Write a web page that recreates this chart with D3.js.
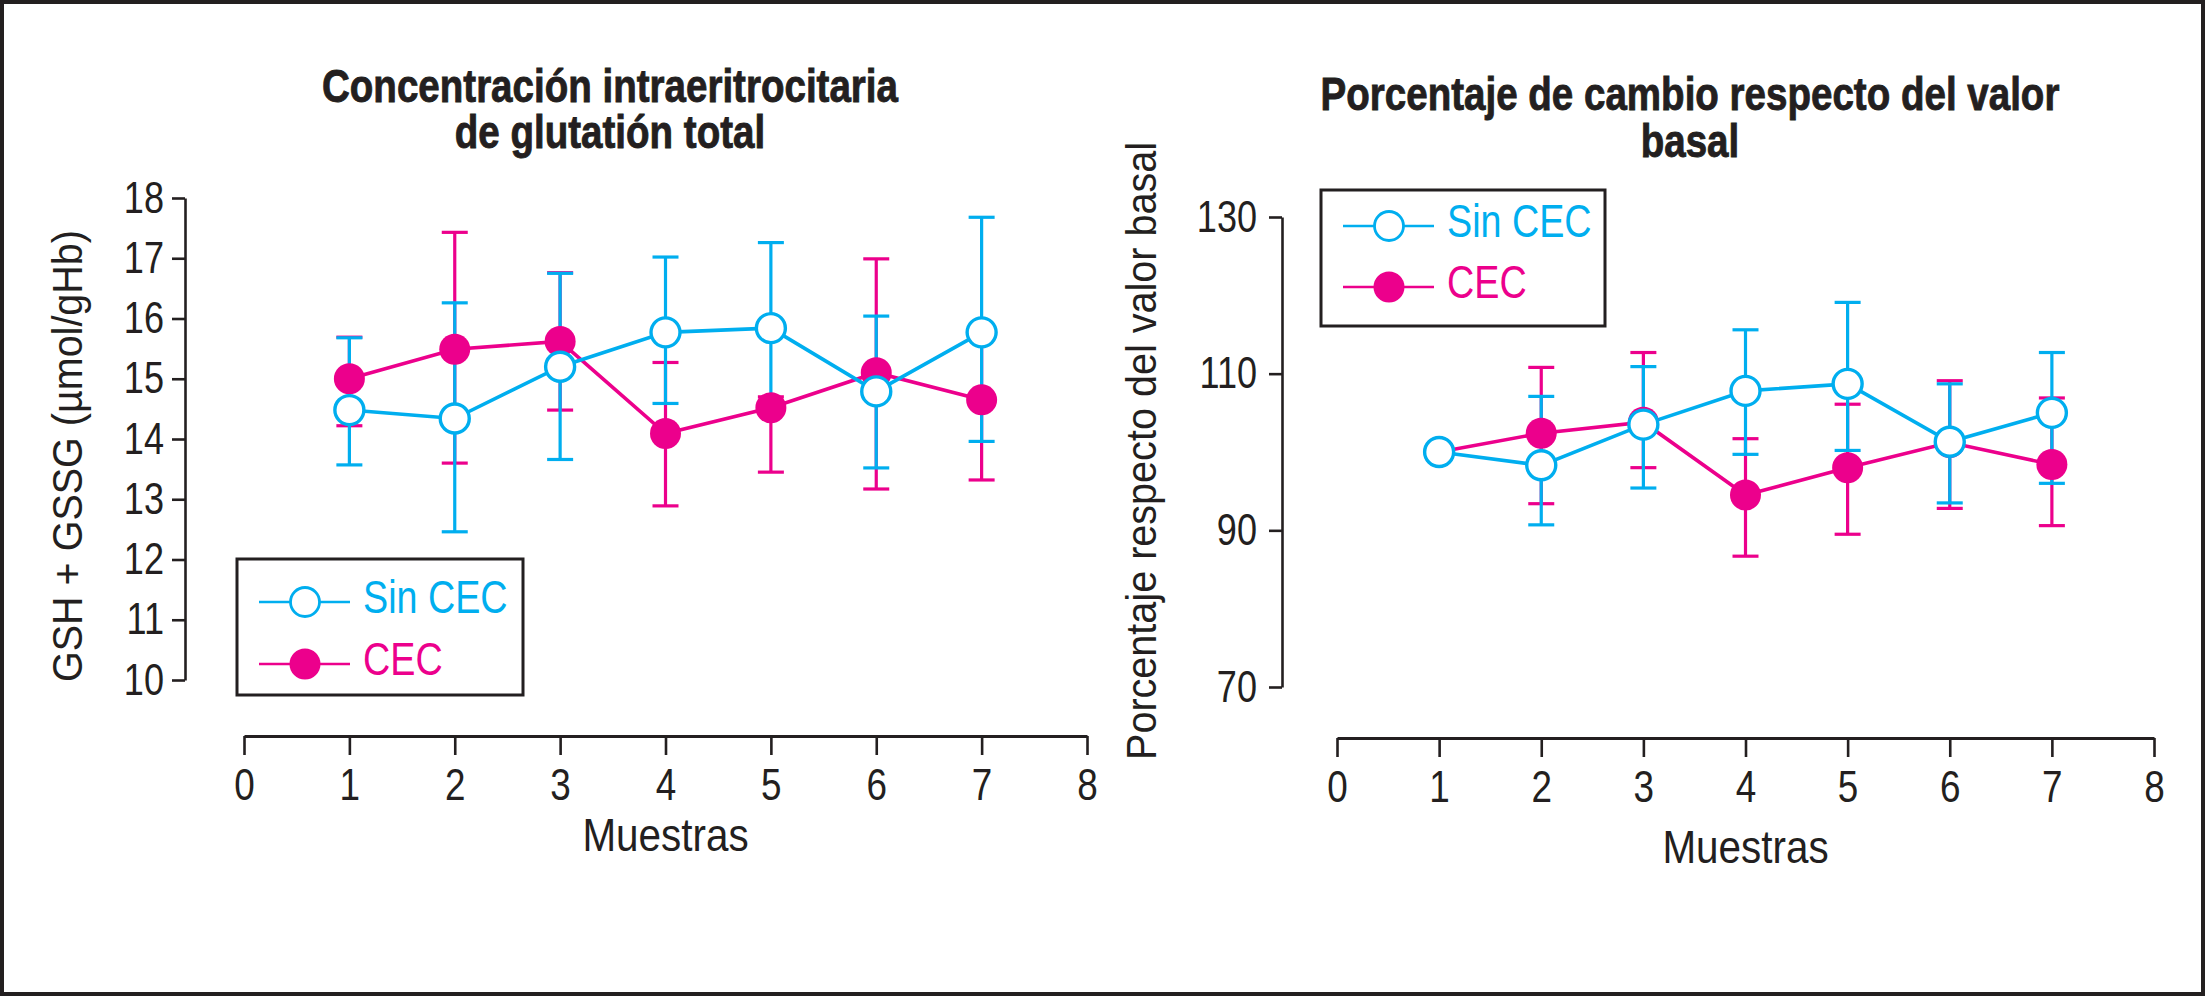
<!DOCTYPE html>
<html>
<head>
<meta charset="utf-8">
<script src="https://cdn.jsdelivr.net/npm/d3@7"></script>
<style>
  body { margin: 0; background: #fff; }
  svg { display: block; }
  .narrow, .plain { font-family: "Liberation Sans", Arial, Helvetica, sans-serif; }
</style>
</head>
<body>
<svg id="chart"></svg>
<script>
const width = 2205;
const height = 997;

const cyan = "#00aeef";
const magenta = "#ec008c";
const ink = "#231f20";
const squeeze = 0.82; // no condensed face installed, so narrow the glyphs by hand

// shared
const samples = [1, 2, 3, 4, 5, 6, 7];
const sampleTicks = [0, 1, 2, 3, 4, 5, 6, 7, 8];
const seriesNames = ["Sin CEC", "CEC"];
const xLabel = "Muestras";

// left panel: total glutathione concentration
const glutTitle = ["Concentración intraeritrocitaria", "de glutatión total"];
const glutYLabel = "GSH + GSSG (µmol/gHb)";
const glutTicks = [10, 11, 12, 13, 14, 15, 16, 17, 18];
const glutSin = [14.48, 14.34, 15.20, 15.77, 15.84, 14.79, 15.77];
const glutSinLow = [13.57, 12.46, 13.66, 14.59, 14.45, 13.52, 13.96];
const glutSinHigh = [15.68, 16.26, 16.75, 17.02, 17.26, 16.04, 17.68];
const glutCec = [15.00, 15.49, 15.62, 14.09, 14.52, 15.10, 14.65];
const glutCecLow = [14.22, 13.60, 14.48, 12.89, 13.45, 13.17, 13.32];
const glutCecHigh = [15.69, 17.43, 16.76, 15.27, 14.70, 16.99, 15.65];

// right panel: percent of baseline
const pctTitle = ["Porcentaje de cambio respecto del valor", "basal"];
const pctYLabel = "Porcentaje respecto del valor basal";
const pctTicks = [70, 90, 110, 130];
const pctSin = [100.0, 98.3, 103.5, 107.8, 108.7, 101.3, 105.0];
const pctSinLow = [null, 90.7, 95.4, 99.7, 100.2, 93.5, 96.0];
const pctSinHigh = [null, 107.1, 110.9, 115.6, 119.1, 108.7, 112.7];
const pctCec = [100.0, 102.4, 103.8, 94.5, 98.0, 101.2, 98.4];
const pctCecLow = [null, 93.4, 98.0, 86.7, 89.5, 92.8, 90.6];
const pctCecHigh = [null, 110.8, 112.7, 101.7, 106.1, 109.1, 106.9];

const svg = d3.select("#chart")
    .attr("width", width)
    .attr("height", height);

svg.append("rect")
    .attr("x", 2).attr("y", 2)
    .attr("width", width - 4).attr("height", height - 5)
    .attr("fill", "#fff")
    .attr("stroke", ink)
    .attr("stroke-width", 4);

const panels = [
    {
        title: glutTitle, titleX: 610, titleY: [102, 148],
        yLabel: glutYLabel, yLabelX: 82, yLabelY: 456, yLabelLen: 452,
        yTicks: glutTicks, yDomain: [10, 18], yRange: [680, 198],
        xRange: [244, 1087], axisX: 185, axisY: 736,
        yPad: 8, xLabelY: 851,
        legend: { x: 237, y: 559, w: 286, h: 136, rows: [43, 105] },
        series: [
            { name: seriesNames[0], color: cyan, filled: false, mean: glutSin, low: glutSinLow, high: glutSinHigh },
            { name: seriesNames[1], color: magenta, filled: true, mean: glutCec, low: glutCecLow, high: glutCecHigh }
        ]
    },
    {
        title: pctTitle, titleX: 1690, titleY: [110, 157],
        yLabel: pctYLabel, yLabelX: 1156, yLabelY: 451, yLabelLen: 618,
        yTicks: pctTicks, yDomain: [70, 130], yRange: [687, 217],
        xRange: [1337, 2154], axisX: 1282, axisY: 738,
        yPad: 12, xLabelY: 863,
        legend: { x: 1321, y: 190, w: 284, h: 136, rows: [36, 97] },
        series: [
            { name: seriesNames[0], color: cyan, filled: false, mean: pctSin, low: pctSinLow, high: pctSinHigh },
            { name: seriesNames[1], color: magenta, filled: true, mean: pctCec, low: pctCecLow, high: pctCecHigh }
        ]
    }
];

panels.forEach(drawPanel);

// scale a text horizontally around its own anchor point
function condense(sel, k = squeeze) {
    sel.each(function() {
        const t = d3.select(this);
        const ax = +t.attr("x") || 0;
        const ay = +t.attr("y") || 0;
        t.attr("transform", `translate(${ax},${ay}) scale(${k},1) translate(${-ax},${-ay})`);
    });
}

function drawPanel(p) {
    const x = d3.scaleLinear().domain([0, 8]).range(p.xRange);
    const y = d3.scaleLinear().domain(p.yDomain).range(p.yRange);
    const g = svg.append("g");

    // title
    const title = g.append("text")
        .attr("class", "narrow")
        .attr("x", p.titleX)
        .attr("y", p.titleY[0])
        .attr("text-anchor", "middle")
        .attr("font-size", 47)
        .attr("font-weight", "bold")
        .attr("fill", ink)
        .attr("stroke", ink)
        .attr("stroke-width", 0.9);
    p.title.forEach((line, i) => {
        title.append("tspan").attr("x", p.titleX).attr("y", p.titleY[i]).text(line);
    });
    condense(title);

    // y axis
    const yAxis = g.append("g")
        .attr("transform", `translate(${p.axisX},0)`)
        .call(d3.axisLeft(y).tickValues(p.yTicks).tickSize(13).tickSizeOuter(0).tickPadding(p.yPad));
    yAxis.select(".domain").attr("stroke", ink).attr("stroke-width", 2.6);
    yAxis.selectAll(".tick line").attr("stroke", ink).attr("stroke-width", 2.6);
    yAxis.selectAll(".tick text")
        .attr("class", "narrow")
        .attr("font-size", 44)
        .attr("fill", ink)
        .call(condense);

    // x axis
    const xAxis = g.append("g")
        .attr("transform", `translate(0,${p.axisY})`)
        .call(d3.axisBottom(x).tickValues(sampleTicks).tickSize(19).tickSizeOuter(0).tickPadding(13));
    xAxis.select(".domain").attr("stroke", ink).attr("stroke-width", 2.8);
    xAxis.selectAll(".tick line").attr("stroke", ink).attr("stroke-width", 2.6);
    xAxis.selectAll(".tick text")
        .attr("class", "narrow")
        .attr("font-size", 45)
        .attr("fill", ink)
        .call(condense);

    g.append("text")
        .attr("class", "narrow")
        .attr("x", (p.xRange[0] + p.xRange[1]) / 2)
        .attr("y", p.xLabelY)
        .attr("text-anchor", "middle")
        .attr("font-size", 47)
        .attr("fill", ink)
        .text(xLabel)
        .call(condense, 0.86);

    g.append("text")
        .attr("class", "plain")
        .attr("transform", `translate(${p.yLabelX},${p.yLabelY}) rotate(-90)`)
        .attr("text-anchor", "middle")
        .attr("font-size", 42)
        .attr("textLength", p.yLabelLen)
        .attr("lengthAdjust", "spacingAndGlyphs")
        .attr("fill", ink)
        .text(p.yLabel);

    // error bars: magenta under cyan
    const barOrder = [p.series[1], p.series[0]];
    barOrder.forEach(s => {
        const bars = g.append("g").attr("stroke", s.color).attr("stroke-width", 3.2);
        samples.forEach((d, i) => {
            if (s.low[i] == null) return;
            const cx = x(d);
            bars.append("line")
                .attr("x1", cx).attr("x2", cx)
                .attr("y1", y(s.low[i])).attr("y2", y(s.high[i]));
            [s.low[i], s.high[i]].forEach(v => {
                bars.append("line")
                    .attr("x1", cx - 13).attr("x2", cx + 13)
                    .attr("y1", y(v)).attr("y2", y(v));
            });
        });
    });

    const line = d3.line().x((d, i) => x(samples[i])).y(d => y(d));
    barOrder.forEach(s => {
        g.append("path")
            .datum(s.mean)
            .attr("d", line)
            .attr("fill", "none")
            .attr("stroke", s.color)
            .attr("stroke-width", 3.6);
    });

    barOrder.forEach(s => {
        g.selectAll(null)
            .data(s.mean)
            .enter().append("circle")
            .attr("cx", (d, i) => x(samples[i]))
            .attr("cy", d => y(d))
            .attr("r", s.filled ? 15.5 : 14.5)
            .attr("fill", s.filled ? s.color : "#fff")
            .attr("stroke", s.filled ? "none" : s.color)
            .attr("stroke-width", 3.4);
    });

    // legend
    const lg = g.append("g").attr("transform", `translate(${p.legend.x},${p.legend.y})`);
    lg.append("rect")
        .attr("width", p.legend.w).attr("height", p.legend.h)
        .attr("fill", "#fff")
        .attr("stroke", ink)
        .attr("stroke-width", 3);
    p.series.forEach((s, i) => {
        const ry = p.legend.rows[i];
        lg.append("line")
            .attr("x1", 22).attr("x2", 113)
            .attr("y1", ry).attr("y2", ry)
            .attr("stroke", s.color).attr("stroke-width", 2.4);
        lg.append("circle")
            .attr("cx", 68).attr("cy", ry)
            .attr("r", s.filled ? 15.5 : 14.5)
            .attr("fill", s.filled ? s.color : "#fff")
            .attr("stroke", s.filled ? "none" : s.color)
            .attr("stroke-width", 2.8);
        lg.append("text")
            .attr("class", "narrow")
            .attr("x", 126).attr("y", ry + 11)
            .attr("font-size", 46)
            .attr("fill", s.color)
            .text(s.name)
            .call(condense);
    });
}
</script>
</body>
</html>
